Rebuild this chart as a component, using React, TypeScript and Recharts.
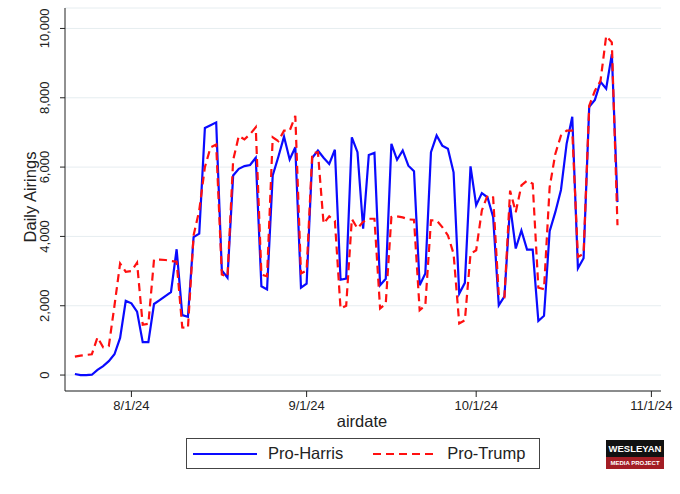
import React from 'react';
import { LineChart, Line, XAxis, YAxis, CartesianGrid } from 'recharts';

// days counted from 8/1/24; first point is 7/22/24
const firstDay = -10;

const harris = [
  30, 0, 0, 10, 150, 260, 400, 600, 1070, 2140,
  2070, 1830, 950, 950, 2050, 2160, 2280, 2390, 3630, 1730,
  1680, 3980, 4080, 7130, 7210, 7290, 3020, 2810, 5760, 5950,
  6030, 6060, 6270, 2560, 2470, 5760, 6300, 6880, 6220, 6570,
  2520, 2640, 6270, 6480, 6270, 6090, 6500, 2750, 2780, 6860,
  6430, 4220, 6350, 6410, 2590, 2780, 6670, 6210, 6480, 6040,
  5880, 2590, 2930, 6430, 6910, 6620, 6530, 5850, 2350, 2660,
  6020, 4900, 5250, 5130, 4560, 2010, 2270, 4900, 3650, 4170,
  3620, 3620, 1560, 1710, 4150, 4700, 5340, 6670, 7450, 3080,
  3370, 7740, 7940, 8460, 8260, 9260, 4990,
];

const trump = [
  530, 560, 580, 600, 1090, 800, 835, 2000, 3220, 2980,
  3000, 3240, 1450, 1480, 3330, 3330, 3320, 3290, 3270, 1370,
  1360, 4030, 4750, 6000, 6570, 6650, 2900, 2840, 6200, 6900,
  6800, 6950, 7150, 2900, 2850, 6860, 6750, 7050, 7050, 7480,
  2930, 3020, 6400, 6430, 4370, 4580, 4450, 1920, 2000, 4500,
  4230, 4420, 4510, 4510, 1920, 2060, 4560, 4580, 4550, 4490,
  4480, 1870, 2010, 4460, 4460, 4270, 4030, 3500, 1490, 1580,
  3500, 3600, 4750, 5180, 5130, 2300, 2250, 5320, 4700, 5470,
  5610, 5520, 2520, 2480, 5420, 6380, 6910, 7050, 7050, 3410,
  3500, 7770, 8200, 8490, 9780, 9600, 4320,
];

const xTicks = [0, 31, 61, 92];
const xTickLabels = ['8/1/24', '9/1/24', '10/1/24', '11/1/24'];
const yTicks = [0, 2000, 4000, 6000, 8000, 10000];

const FONT = "'Liberation Sans', Arial, sans-serif";
const BLUE = '#0a0aff';
const RED = '#ff1010';

const data = harris.map((h, i) => ({ day: firstDay + i, harris: h, trump: trump[i] }));

const YTick = (props: any) => {
  const { y, payload } = props;
  const x = 49;
  return (
    <text
      x={x}
      y={y}
      transform={`rotate(-90, ${x}, ${y})`}
      textAnchor="middle"
      fontSize={13}
      fontFamily={FONT}
      fill="#222"
    >
      {Number(payload.value).toLocaleString('en-US')}
    </text>
  );
};

export default function App() {
  return (
    <div style={{ position: 'absolute', left: 0, top: 0, width: 680, height: 494, background: '#fff', fontFamily: FONT }}>
      <LineChart
        width={680}
        height={494}
        data={data}
        margin={{ top: 8, right: 19, bottom: 73, left: 25 }}
      >
        <CartesianGrid vertical={false} stroke="#e6edf0" strokeWidth={1} />
        <XAxis
          dataKey="day"
          type="number"
          domain={[-11.75, 93.7]}
          ticks={xTicks}
          allowDataOverflow
          height={30}
          tickSize={6}
          tickMargin={4}
          tickFormatter={(v: number) => xTickLabels[xTicks.indexOf(v)]}
          tick={{ fontSize: 13, fontFamily: FONT, fill: '#222' }}
          stroke="#222"
        />
        <YAxis
          type="number"
          domain={[-460, 10590]}
          ticks={yTicks}
          allowDataOverflow
          width={40}
          tickSize={5}
          tick={<YTick />}
          stroke="#222"
        />
        <Line
          type="linear"
          dataKey="harris"
          stroke={BLUE}
          strokeWidth={2.2}
          dot={false}
          isAnimationActive={false}
        />
        <Line
          type="linear"
          dataKey="trump"
          stroke={RED}
          strokeWidth={2.2}
          strokeDasharray="8 5"
          dot={false}
          isAnimationActive={false}
        />
      </LineChart>

      <div
        style={{
          position: 'absolute', left: 30, top: 197, transform: 'translate(-50%, -50%) rotate(-90deg)',
          fontSize: 16.5, whiteSpace: 'nowrap', color: '#222',
        }}
      >
        Daily Airings
      </div>
      <div
        style={{
          position: 'absolute', left: 362, top: 421, transform: 'translate(-50%, -50%)',
          fontSize: 16.5, whiteSpace: 'nowrap', color: '#222',
        }}
      >
        airdate
      </div>

      <div
        style={{
          position: 'absolute', left: 186, top: 438, width: 352, height: 29,
          border: '1px solid #444', display: 'flex', alignItems: 'center', fontSize: 16.5, color: '#222',
        }}
      >
        <svg width={64} height={10} style={{ marginLeft: 6 }}>
          <line x1={0} y1={5} x2={64} y2={5} stroke={BLUE} strokeWidth={2.2} />
        </svg>
        <span style={{ marginLeft: 11 }}>Pro-Harris</span>
        <svg width={64} height={10} style={{ marginLeft: 30 }}>
          <line x1={0} y1={5} x2={64} y2={5} stroke={RED} strokeWidth={2.2} strokeDasharray="8 5" />
        </svg>
        <span style={{ marginLeft: 10 }}>Pro-Trump</span>
      </div>

      <div style={{ position: 'absolute', left: 606, top: 440, width: 58, fontFamily: FONT, fontWeight: 700, color: '#fff', textAlign: 'center' }}>
        <div style={{ background: '#111', height: 17, fontSize: 9.5, lineHeight: '17px', whiteSpace: 'nowrap' }}>
          WESLEYAN
        </div>
        <div style={{ background: '#a31d24', height: 12, fontSize: 6, lineHeight: '12px', whiteSpace: 'nowrap' }}>
          MEDIA PROJECT
        </div>
      </div>
    </div>
  );
}
